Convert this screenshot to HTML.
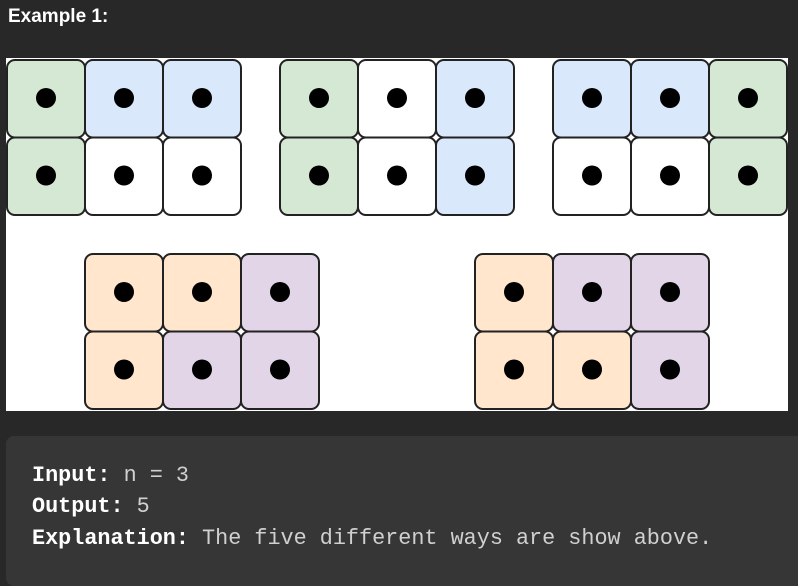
<!DOCTYPE html>
<html><head><meta charset="utf-8"><style>
body{margin:0;width:798px;height:573px;background:#282828;overflow:hidden;position:relative;font-family:"Liberation Sans",sans-serif}
#title{position:absolute;left:8px;top:6px;color:#fff;font-weight:bold;font-size:19px}
#img{position:absolute;left:6px;top:58px}
#code{position:absolute;left:6px;top:436px;width:810px;height:150px;background:#363636;border-radius:8px}
.ln{position:absolute;left:32px;font-family:"Liberation Mono",monospace;font-size:21.8px;color:#d0d0d0;white-space:pre}
.ln b{color:#fff}
</style></head><body>
<div id="title">Example 1:</div>
<svg id="img" width="782" height="353" viewBox="6 58 782 353">
<rect x="6" y="58" width="782" height="353" fill="#fff"/>
<g id="cells"></g>
</svg>
<div id="code"></div>
<div class="ln" style="top:463px"><b>Input:</b> n = 3</div>
<div class="ln" style="top:494px"><b>Output:</b> 5</div>
<div class="ln" style="top:526px"><b>Explanation:</b> The five different ways are show above.</div>
<script>
const C={g:'#d5e8d4',b:'#dae8fc',w:'#ffffff',o:'#ffe6cc',p:'#e1d5e7'};
const groups=[
 {x:7,y:60,cols:[['g','g'],['b','w'],['b','w']]},
 {x:280,y:60,cols:[['g','g'],['w','w'],['b','b']]},
 {x:553,y:60,cols:[['b','w'],['b','w'],['g','g']]},
 {x:85,y:254,cols:[['o','o'],['o','p'],['p','p']]},
 {x:475,y:254,cols:[['o','o'],['p','o'],['p','p']]}
];
const g=document.getElementById('cells');const ns='http://www.w3.org/2000/svg';
groups.forEach((gr,gi)=>{gr.cols.forEach((col,ci)=>{col.forEach((c,ri)=>{
 const x=gr.x+ci*78,y=gr.y+ri*77.5;
 const r=document.createElementNS(ns,'rect');
 
 
 r.setAttribute('x',x);r.setAttribute('y',y);r.setAttribute('width',78);r.setAttribute('height',77.5);
 r.setAttribute('rx',8);r.setAttribute('fill',C[c]);r.setAttribute('stroke','#222');r.setAttribute('stroke-width',2);
 g.appendChild(r);
 const d=document.createElementNS(ns,'circle');
 
 
 d.setAttribute('cx',x+39);d.setAttribute('cy',y+38);d.setAttribute('r',10);d.setAttribute('fill','#000');
 g.appendChild(d);
});});});
</script>
</body></html>
